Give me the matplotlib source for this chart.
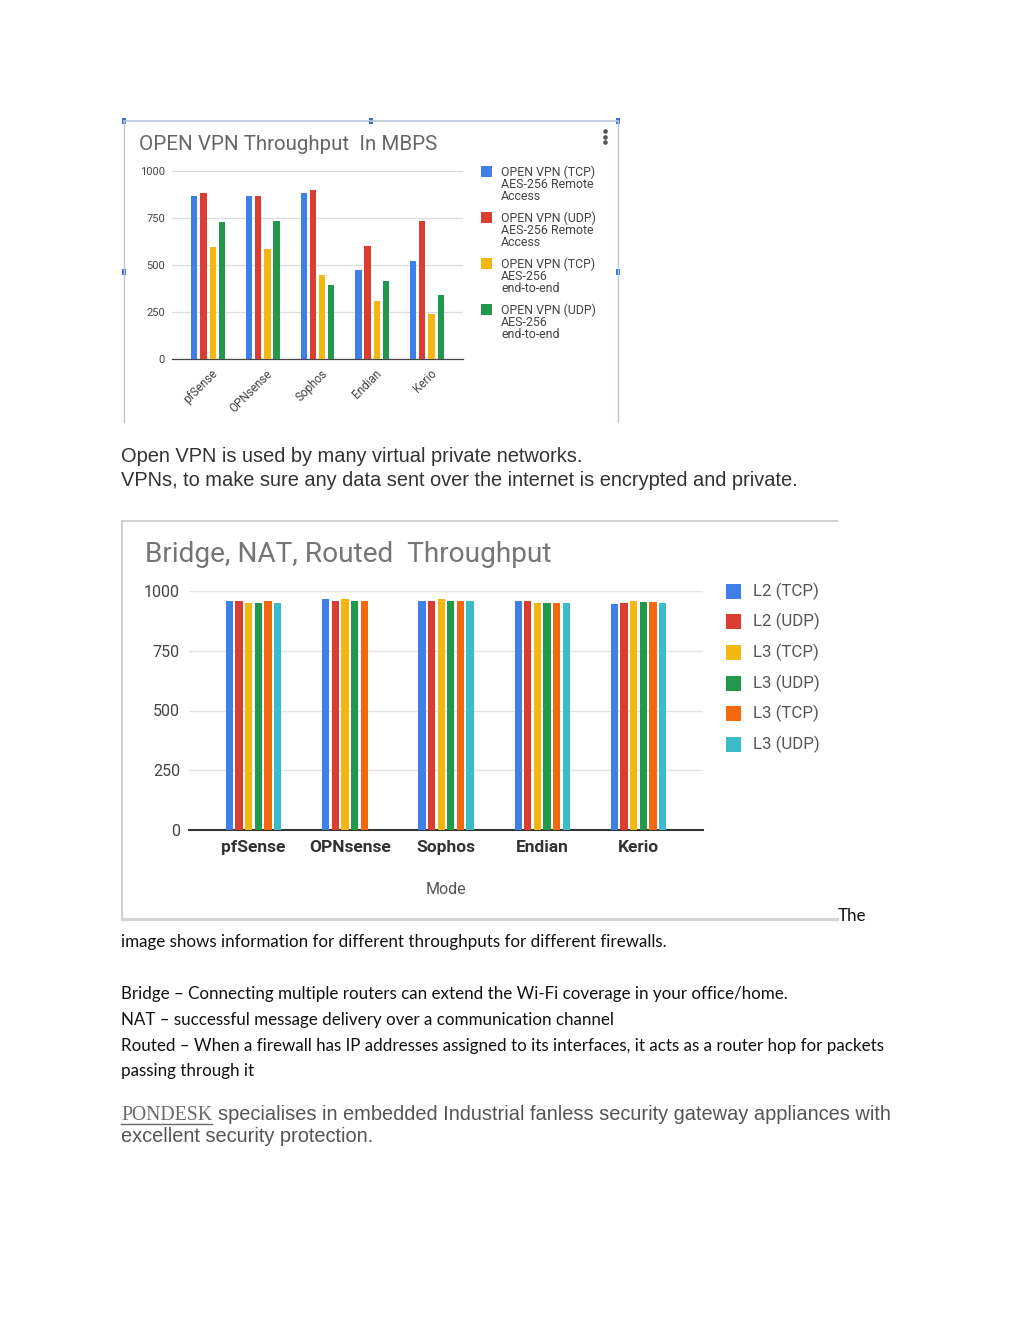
import matplotlib
matplotlib.use('Agg')
import matplotlib.pyplot as plt
import matplotlib.transforms as mtransforms
from matplotlib.patches import Rectangle
import numpy as np

W, H = 1024, 1325

# ---------------- data ----------------
firewalls = ['pfSense', 'OPNsense', 'Sophos', 'Endian', 'Kerio']

vpn_labels = ['OPEN VPN (TCP)\nAES-256 Remote\nAccess',
              'OPEN VPN (UDP)\nAES-256 Remote\nAccess',
              'OPEN VPN (TCP)\nAES-256\nend-to-end',
              'OPEN VPN (UDP)\nAES-256\nend-to-end']
vpn_tcp_remote = [865, 865, 884, 474, 520]
vpn_udp_remote = [883, 865, 900, 600, 732]
vpn_tcp_e2e = [595, 586, 449, 311, 240]
vpn_udp_e2e = [728, 733, 391, 414, 343]
vpn_values = [vpn_tcp_remote, vpn_udp_remote, vpn_tcp_e2e, vpn_udp_e2e]
vpn_colors = ['#3f7fe9', '#dc3d32', '#f4b70f', '#21984c']

mode_labels = ['L2 (TCP)', 'L2 (UDP)', 'L3 (TCP)', 'L3 (UDP)', 'L3 (TCP)', 'L3 (UDP)']
l2_tcp = [958, 965, 958, 958, 947]
l2_udp = [958, 958, 958, 958, 951]
l3_tcp = [951, 965, 965, 951, 958]
l3_udp = [951, 958, 958, 951, 955]
l3_tcp_b = [958, 958, 958, 951, 955]
l3_udp_b = [951, np.nan, 958, 951, 951]
mode_values = [l2_tcp, l2_udp, l3_tcp, l3_udp, l3_tcp_b, l3_udp_b]
mode_colors = ['#3f7fe9', '#dc3d32', '#f4b70f', '#21984c', '#f4690f', '#3bbcc9']

yticks = [0, 250, 500, 750, 1000]

# ---------------- figure ----------------
fig = plt.figure(figsize=(W / 100, H / 100), dpi=100)
bg = fig.add_axes([0, 0, 1, 1], zorder=0)
bg.set_xlim(0, W)
bg.set_ylim(H, 0)
bg.axis('off')


def rect(x0, y0, x1, y1):
    return [x0 / W, 1 - y1 / H, (x1 - x0) / W, (y1 - y0) / H]


# ---------- chart 1 frame ----------
fc = '#b9c6d8'
bg.plot([124, 618], [121, 121], color=fc, lw=1.2)
bg.plot([124, 124], [121, 422], color=fc, lw=1.0)
bg.plot([618, 618], [121, 422], color=fc, lw=1.0)
for (hx, hy) in [(124, 121), (371, 121), (618, 121), (124, 272), (618, 272)]:
    bg.add_patch(Rectangle((hx - 2, hy - 3), 4, 6, color='#3d6fd6', lw=0))
for dy in [131, 137, 142]:
    bg.plot([605], [dy], 'o', color='#555555', ms=2.3)

bg.text(139, 144, 'OPEN VPN Throughput  In MBPS', family='Roboto', fontsize=14.8,
        color='#666666', va='center', ha='left')

ax1 = fig.add_axes(rect(172, 171, 463, 359), zorder=2)
ax1.patch.set_alpha(0)
x = np.arange(len(firewalls))
stride1, bw1 = 0.168, 0.115
for i, (vals, col) in enumerate(zip(vpn_values, vpn_colors)):
    ax1.bar(x + (i - 1.5) * stride1, vals, width=bw1, color=col, zorder=3)
ax1.set_xlim(-0.66, 4.66)
ax1.set_ylim(0, 1000)
ax1.set_yticks(yticks)
ax1.set_yticklabels([str(t) for t in yticks], family='Roboto', fontsize=8, color='#444444')
ax1.grid(axis='y', color='#dedede', lw=0.9, zorder=0)
for s in ['top', 'right', 'left']:
    ax1.spines[s].set_visible(False)
ax1.spines['bottom'].set_color('#444444')
ax1.spines['bottom'].set_linewidth(0.9)
ax1.tick_params(axis='y', length=0, pad=5)
ax1.tick_params(axis='x', length=0, pad=6)
ax1.set_xticks(x)
ax1.set_xticklabels(firewalls, rotation=45, ha='right', rotation_mode='anchor',
                    family='Roboto', fontsize=8.5, color='#444444')
off = mtransforms.ScaledTranslation(3 / 100, 0, fig.dpi_scale_trans)
for lab in ax1.get_xticklabels():
    lab.set_transform(lab.get_transform() + off)

# legend chart 1 (manual)
for i, (lab, col) in enumerate(zip(vpn_labels, vpn_colors)):
    y0 = 172 + 46 * i
    bg.add_patch(Rectangle((481, y0 - 6), 11, 11, color=col, lw=0))
    for j, line in enumerate(lab.split('\n')):
        bg.text(501, y0 + 12 * j, line, family='Roboto', fontsize=8.9,
                color='#444444', va='center', ha='left')

# ---------- chart 2 frame ----------
gc = '#c8c8c8'
bg.plot([122, 837], [521, 521], color=gc, lw=1.2)
bg.plot([122, 122], [521, 919], color=gc, lw=1.2)
bg.plot([122, 837], [919, 919], color='#d4d4d4', lw=2.2)

bg.text(145, 555, 'Bridge, NAT, Routed  Throughput', family='Roboto', fontsize=20.2,
        color='#757575', va='center', ha='left')

ax2 = fig.add_axes(rect(189, 591, 703, 830), zorder=2)
ax2.patch.set_alpha(0)
stride2, bw2 = 0.1, 0.076
for i, (vals, col) in enumerate(zip(mode_values, mode_colors)):
    ax2.bar(x + (i - 2.5) * stride2, vals, width=bw2, color=col, zorder=3)
ax2.set_xlim(-0.67, 4.67)
ax2.set_ylim(0, 1000)
ax2.set_yticks(yticks)
ax2.set_yticklabels([str(t) for t in yticks], family='Roboto', fontsize=11.5, color='#444444')
ax2.grid(axis='y', color='#e4e4e4', lw=1.0, zorder=0)
for s in ['top', 'right', 'left']:
    ax2.spines[s].set_visible(False)
ax2.spines['bottom'].set_color('#333333')
ax2.spines['bottom'].set_linewidth(1.5)
ax2.tick_params(axis='y', length=0, pad=6.5)
ax2.tick_params(axis='x', length=0, pad=7)
ax2.set_xticks(x)
ax2.set_xticklabels(firewalls, family='Roboto', fontsize=12.5, fontweight='bold', color='#333333')
ax2.set_xlabel('Mode', family='Roboto', fontsize=11.5, color='#555555', labelpad=20)

for i, (lab, col) in enumerate(zip(mode_labels, mode_colors)):
    yc = 591 + 30.7 * i
    bg.add_patch(Rectangle((726, yc - 7.5), 15, 15, color=col, lw=0))
    bg.text(753, yc, lab, family='Roboto', fontsize=12.2, color='#555555',
            va='center', ha='left')

# ---------- body text ----------
renderer = fig.canvas.get_renderer()


def text_width(t):
    bb = t.get_window_extent(renderer=renderer)
    return bb.width


def block(lines, x0, baselines, target_w, family, color, ref_index=0, base=12):
    texts = []
    for s, yb in zip(lines, baselines):
        t = bg.text(x0, yb, s, family=family, fontsize=base, color=color,
                    va='baseline', ha='left')
        texts.append(t)
    w = text_width(texts[ref_index])
    size = base * target_w / w
    for t in texts:
        t.set_fontsize(size)
    return texts, size


block(['Open VPN is used by many virtual private networks.',
       'VPNs, to make sure any data sent over the internet is encrypted and private.'],
      121, [462.5, 485.5], 678, 'Liberation Sans', '#333333', ref_index=1)

cal_lines = ['image shows information for different throughputs for different firewalls.',
             'Bridge \u2013 Connecting multiple routers can extend the Wi-Fi coverage in your office/home.',
             'NAT \u2013 successful message delivery over a communication channel',
             'Routed \u2013 When a firewall has IP addresses assigned to its interfaces, it acts as a router hop for packets',
             'passing through it']
_, csize = block(cal_lines, 121, [947, 998.5, 1024.5, 1050.5, 1076], 763, 'Lato', '#111111', ref_index=3)
bg.text(838, 921, 'The', family='Lato', fontsize=csize, color='#111111', va='baseline', ha='left')

# PONDESK paragraph
pt = bg.text(121, 1120.5, 'PONDESK', family='Liberation Serif', fontsize=12, color='#6a6a6a',
             va='baseline', ha='left')
pw = text_width(pt)
pt.set_fontsize(12 * 91 / pw)
bg.plot([121, 212], [1123.5, 1123.5], color='#6a6a6a', lw=1.0)
rest, rsize = block(['specialises in embedded Industrial fanless security gateway appliances with',
                     'excellent security protection.'],
                    218, [1120.5, 1142.5], 674, 'Liberation Sans', '#555555', ref_index=0)
rest[1].set_x(121)

fig.savefig('out.png', dpi=100, facecolor='white')
